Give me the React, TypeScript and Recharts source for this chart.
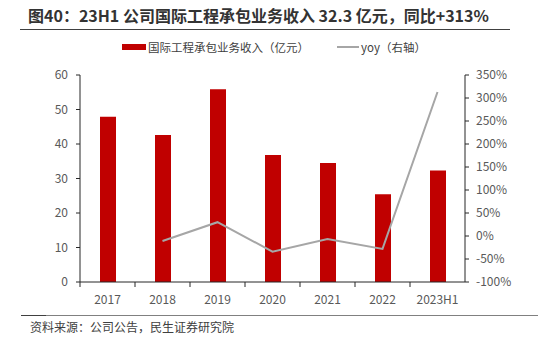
import React from 'react';
import {
  ComposedChart,
  Bar,
  Line,
  XAxis,
  YAxis,
} from 'recharts';

const years = ['2017', '2018', '2019', '2020', '2021', '2022', '2023H1'];
const revenue = [47.9, 42.6, 55.9, 36.8, 34.5, 25.4, 32.3];
const yoy: (number | null)[] = [null, -11, 30, -34, -6.5, -28, 313];
const leftTicks = [0, 10, 20, 30, 40, 50, 60];
const rightTicks = [-100, -50, 0, 50, 100, 150, 200, 250, 300, 350];

const FONT = "'Noto Sans CJK SC', 'Noto Sans', sans-serif";
const RED = '#C00000';
const GREY = '#A6A6A6';

const data = years.map((y, i) => ({ year: y, revenue: revenue[i], yoy: yoy[i] }));

// category tick: label in the middle, tick mark on the band boundary
const XTick = (props: any) => {
  const { x, y, payload, width, visibleTicksCount } = props;
  const half = width / visibleTicksCount / 2;
  const axisY = y - 13;
  return (
    <g>
      <line x1={x - half} x2={x - half} y1={axisY} y2={axisY + 5} stroke="#262626" />
      <text x={x} y={y} dy="0.71em" textAnchor="middle" fill="#595959" fontSize={12} fontFamily={FONT}>
        {payload.value}
      </text>
    </g>
  );
};

const LegendBox = () => (
  <div
    style={{
      position: 'absolute',
      left: 0,
      top: 38,
      width: 538,
      display: 'flex',
      justifyContent: 'center',
      alignItems: 'center',
      fontFamily: FONT,
      fontSize: 11.5,
      color: '#404040',
      paddingLeft: 10,
      boxSizing: 'border-box',
      lineHeight: '18px',
    }}
  >
    <span style={{ display: 'inline-block', width: 24, height: 6, background: RED, marginRight: 2 }} />
    <span>国际工程承包业务收入（亿元）</span>
    <span style={{ display: 'inline-block', width: 22, height: 2, background: GREY, marginLeft: 28, marginRight: 2 }} />
    <span>yoy（右轴）</span>
  </div>
);

export default function App() {
  return (
    <div style={{ position: 'absolute', left: 0, top: 0, width: 538, height: 351, background: '#fff', fontFamily: FONT }}>
      <div
        style={{
          position: 'absolute',
          left: 28,
          top: 4,
          fontSize: 16,
          fontWeight: 'bold',
          color: '#333',
          whiteSpace: 'nowrap',
          lineHeight: '22px',
        }}
      >
        图40：23H1 公司国际工程承包业务收入 32.3 亿元，同比+313%
      </div>
      <div style={{ position: 'absolute', left: 20, top: 29, width: 490, height: 1, background: '#404040' }} />

      <ComposedChart
        width={538}
        height={351}
        data={data}
        margin={{ top: 75, right: 13, left: 30, bottom: 44 }}
        style={{ position: 'absolute', left: 0, top: 0 }}
      >
        <XAxis
          dataKey="year"
          axisLine={{ stroke: '#262626' }}
          tickLine={false}
          tickSize={5}
          tickMargin={8}
          tick={<XTick />}
          interval={0}
          height={25}
        />
        <YAxis
          yAxisId="left"
          domain={[0, 60]}
          ticks={leftTicks}
          width={50}
          axisLine={{ stroke: '#262626' }}
          tickLine={{ stroke: '#262626' }}
          tickSize={4}
          tickMargin={8}
          tick={{ fontSize: 12, fill: '#595959', fontFamily: FONT }}
        />
        <YAxis
          yAxisId="right"
          orientation="right"
          domain={[-100, 350]}
          ticks={rightTicks}
          width={60}
          axisLine={{ stroke: '#262626' }}
          tickLine={{ stroke: '#262626' }}
          tickSize={4}
          tickMargin={7}
          tickFormatter={(v: number) => `${v}%`}
          tick={{ fontSize: 12, fill: '#595959', fontFamily: FONT, textAnchor: 'start' }}
        />
        <Bar
          yAxisId="left"
          dataKey="revenue"
          fill={RED}
          barSize={16}
          isAnimationActive={false}
        />
        <Line
          yAxisId="right"
          type="linear"
          dataKey="yoy"
          stroke={GREY}
          strokeWidth={2}
          dot={false}
          connectNulls={false}
          isAnimationActive={false}
        />
      </ComposedChart>

      <LegendBox />

      <div style={{ position: 'absolute', left: 21, top: 315, width: 517, height: 1, background: '#808080' }} />
      <div style={{ position: 'absolute', left: 21, top: 315, width: 25, height: 1, background: '#404040' }} />
      <div
        style={{
          position: 'absolute',
          left: 30,
          top: 319,
          fontSize: 12,
          color: '#404040',
          whiteSpace: 'nowrap',
          lineHeight: '16px',
        }}
      >
        资料来源：公司公告，民生证券研究院
      </div>
    </div>
  );
}
